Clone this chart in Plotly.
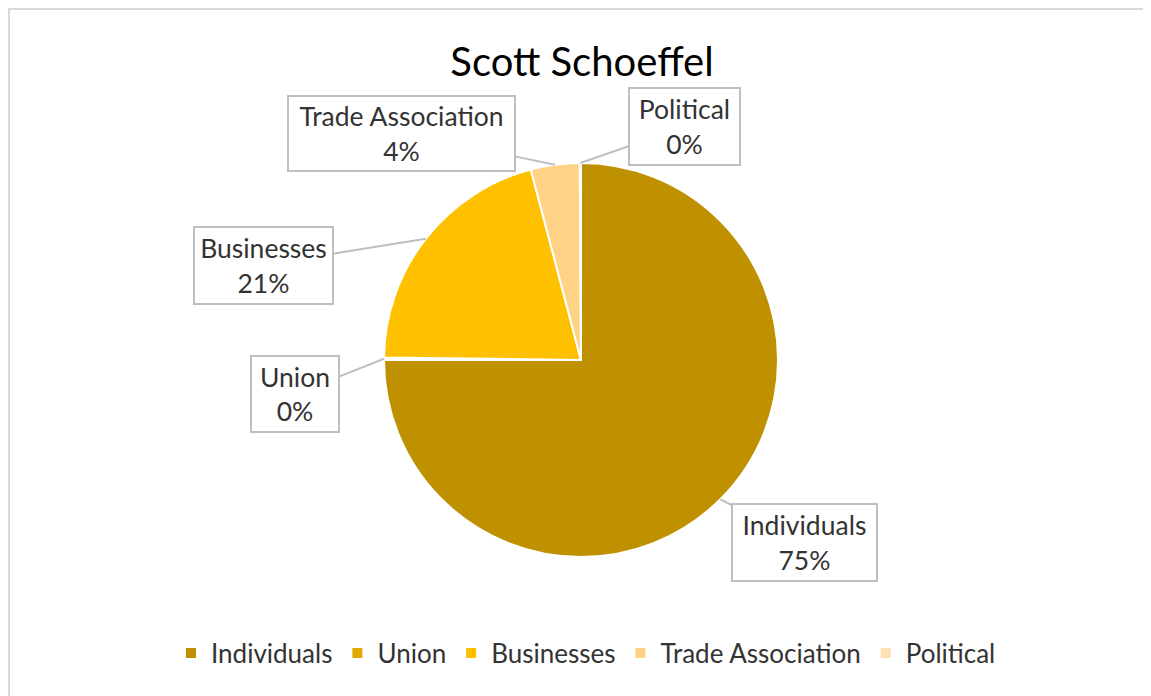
import math
import plotly.graph_objects as go

W, H = 1151, 696
OFF = 8  # page body margin offset of the rendered figure

labels = ["Individuals", "Union", "Businesses", "Trade Association", "Political"]
values = [75.0, 0.2, 20.7, 4.0, 0.1]
pct_text = ["75%", "0%", "21%", "4%", "0%"]
colors = ["#BF9000", "#DEA900", "#FFC000", "#FFD285", "#FFE0B2"]

# callout box layout (pixel centers and sizes, screen coords)
box_center = [(804, 542), (295, 394), (263, 265), (401, 133), (684, 127)]
box_size = [(147, 79), (90, 78), (141, 79), (229, 77), (113, 79)]

FONT = "Lato"
cx_px, cy_px, r_px = 581, 360, 197


def px(x):
    return (x - OFF) / W


def py(y):
    return 1 - (y - OFF) / H


fig = go.Figure()
fig.add_trace(go.Pie(
    labels=labels, values=values, sort=False, direction="clockwise", rotation=0,
    marker=dict(colors=colors, line=dict(color="white", width=2)),
    textinfo="none", hoverinfo="label+percent",
    domain=dict(x=[px(cx_px - r_px), px(cx_px + r_px)], y=[py(cy_px + r_px), py(cy_px - r_px)]),
))

total = sum(values)
cum = 0.0
annotations = []
for lab, v, t, (bx, by), (bw, bh) in zip(labels, values, pct_text, box_center, box_size):
    mid = (cum + v / 2) / total
    cum += v
    th = 2 * math.pi * mid
    tx = cx_px + r_px * math.sin(th)
    ty = cy_px - r_px * math.cos(th)
    annotations.append(dict(
        x=px(tx), y=py(ty), xref="paper", yref="paper",
        ax=bx - tx, ay=by - ty, axref="pixel", ayref="pixel",
        text=f"{lab}<br>{t}", showarrow=True, arrowhead=0, arrowwidth=2,
        arrowcolor="#BFBFBF", bordercolor="#BFBFBF", borderwidth=2, borderpad=0,
        bgcolor="white", width=bw - 4, height=bh - 4, align="center",
        font=dict(family=FONT, size=26.5, color="#333333"),
    ))

fig.update_layout(
    width=W, height=H,
    margin=dict(l=0, r=0, t=0, b=0),
    paper_bgcolor="white", plot_bgcolor="white",
    title=dict(text="Scott Schoeffel", x=px(582), y=py(62), xref="paper", yref="paper",
               xanchor="center", yanchor="middle",
               font=dict(family=FONT, size=40, color="#000000")),
    showlegend=True,
    legend=dict(orientation="h", x=px(586), y=py(653), xanchor="center", yanchor="middle",
                font=dict(family=FONT, size=26, color="#333333"), traceorder="normal"),
    annotations=annotations,
    shapes=[
        dict(type="line", xref="paper", yref="paper", x0=0, x1=1.01, y0=1 - 0.5 / H, y1=1 - 0.5 / H,
             line=dict(color="#D9D9D9", width=3)),
        dict(type="line", xref="paper", yref="paper", x0=0.5 / W, x1=0.5 / W, y0=1, y1=-0.01,
             line=dict(color="#D9D9D9", width=3)),
    ],
)

fig.write_html("out.html")
